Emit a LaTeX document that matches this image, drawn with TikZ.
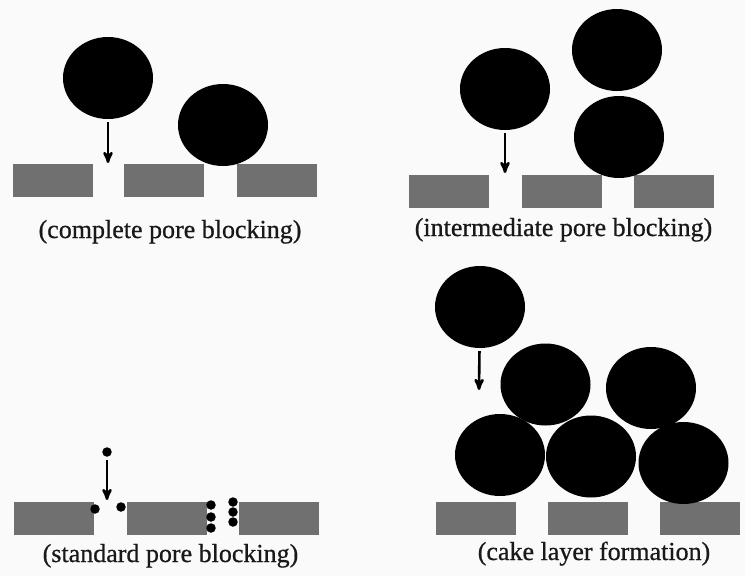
\documentclass[tikz,border=0pt]{standalone}
\usepackage{fontspec}
\setmainfont{Liberation Serif}
\newfontfamily\capfont[FakeBold=0.7]{Liberation Serif}
\usetikzlibrary{arrows,shapes.geometric}

\definecolor{wallgray}{RGB}{112,112,112}
\definecolor{paper}{RGB}{250,250,250}

\begin{document}
\begin{tikzpicture}[x=1pt,y=-1pt,>=stealth',
    particle/.style={ellipse,fill=black,inner sep=0pt,minimum width=90pt,minimum height=82pt},
    fine/.style={circle,fill=black,inner sep=0pt,minimum size=9.5pt},
    wall/.style={rectangle,fill=wallgray,inner sep=0pt,minimum width=80pt,minimum height=33pt},
    flow/.style={->,line width=2.6pt,shorten <=3pt},
    caption/.style={anchor=base,inner sep=0pt,font=\capfont\fontsize{26}{30}\selectfont,text=black!90}]

\fill[paper] (0,0) rectangle (745,576);
\useasboundingbox (0,0) rectangle (745,576);

% complete pore blocking
\node[wall] (w11) at (52.5,180.5) {};
\node[wall] (w12) at (164,180.5) {};
\node[wall] (w13) at (276.5,180.5) {};
\node[particle] (a1) at (108,78) {};
\node[particle] (a2) at (223,125) {};
\coordinate (t1) at (108,163);
\draw[flow] (a1) -- (t1);
\node[caption] (c1) at (170,238) {(complete pore blocking)};

% intermediate pore blocking
\node[wall] (w21) at (449,191.5) {};
\node[wall] (w22) at (561.5,191.5) {};
\node[wall] (w23) at (674,191.5) {};
\node[particle] (b1) at (505,89) {};
\node[particle] (b2) at (619,137) {};
\node[particle] (b3) at (617,50) {};
\coordinate (t2) at (505,173);
\draw[flow] (b1) -- (t2);
\node[caption] (c2) at (563.5,236) {(intermediate pore blocking)};

% standard pore blocking
\node[wall] (w31) at (53.5,518) {};
\node[wall] (w32) at (166.5,518) {};
\node[wall] (w33) at (279,518) {};
\node[fine] (d0) at (107,452) {};
\node[fine] (d1) at (95,509) {};
\node[fine] (d2) at (121,507) {};
\node[fine] (d3) at (211,505) {};
\node[fine] (d4) at (211,517) {};
\node[fine] (d5) at (211,528) {};
\node[fine] (d6) at (233,502) {};
\node[fine] (d7) at (233,512) {};
\node[fine] (d8) at (233,522) {};
\coordinate (t3) at (107,500);
\draw[flow] (d0) -- (t3);
\node[caption] (c3) at (170.5,562) {(standard pore blocking)};

% cake layer formation
\node[wall] (w41) at (475.5,518.5) {};
\node[wall] (w42) at (587.5,518.5) {};
\node[wall] (w43) at (700,518.5) {};
\node[particle] (k0) at (480,307) {};
\node[particle] (k1) at (545.5,384.5) {};
\node[particle] (k2) at (651,388) {};
\node[particle] (k3) at (500,455) {};
\node[particle] (k4) at (591,456.5) {};
\node[particle] (k5) at (683.5,463) {};
\coordinate (t4) at (479,390);
\draw[flow] (k0) -- (t4);
\node[caption] (c4) at (594,560) {(cake layer formation)};

\end{tikzpicture}
\end{document}
